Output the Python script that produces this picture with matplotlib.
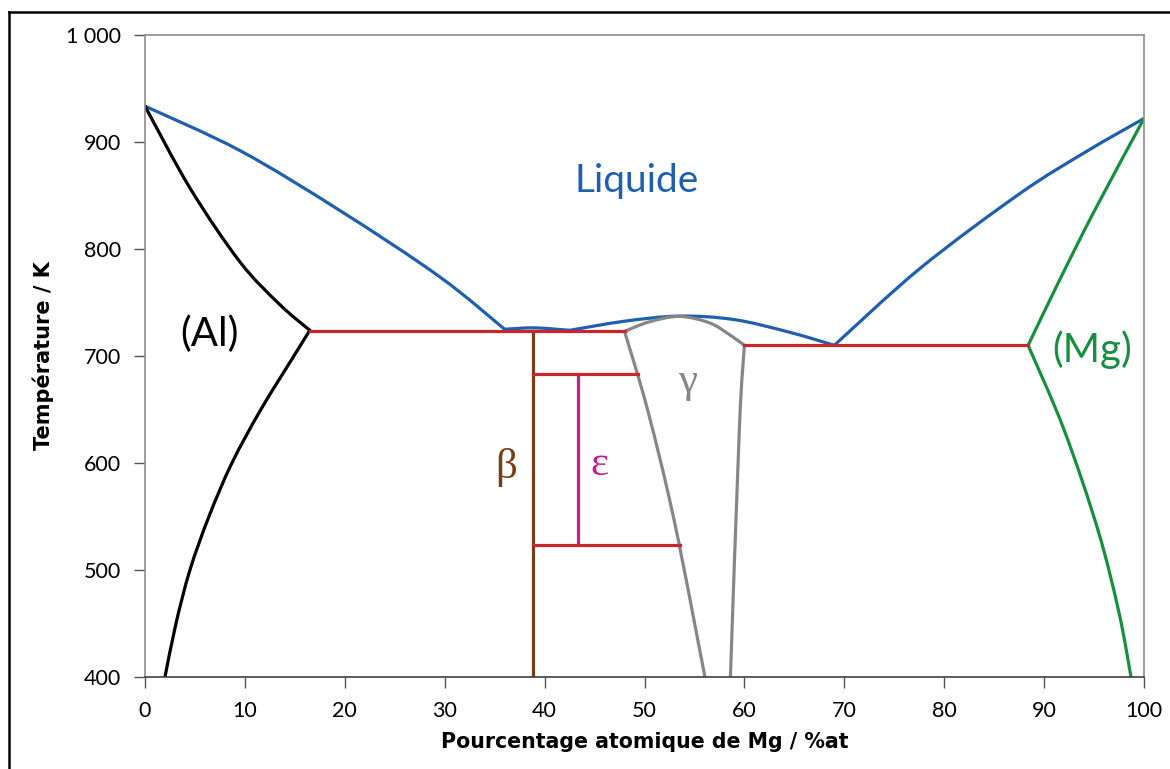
import matplotlib
matplotlib.use("Agg")
import matplotlib.pyplot as plt
from matplotlib.lines import Line2D
from matplotlib.path import Path
from matplotlib.patches import PathPatch

# Diagramme de phases Al-Mg
liq_al_x = [0, 9.5, 19.5, 29.5, 36]
liq_al_t = [933.5, 892, 836, 774, 725]

hump_x = [36, 39, 42.5]
hump_t = [725, 726.3, 724]

liq_mid_x = [42.5, 48, 53.5, 59, 64.6, 69]
liq_mid_t = [724, 732.5, 737.3, 734, 722, 710]

liq_mg_x = [69, 77.6, 87.6, 94.3, 100]
liq_mg_t = [710, 782, 852, 891.5, 922]

sol_al_x = [0, 4.5, 9.5, 13.5, 16.5]
sol_al_t = [933.5, 857, 788, 748, 724]

solv_al_x = [16.5, 14.9, 11.6, 8.7, 6.4, 4.5, 3.1, 2.0]
solv_al_t = [724, 700, 650, 600, 550, 500, 450, 400]

sol_mg_x = [88.4, 91.5, 95, 100]
sol_mg_t = [710, 770, 835, 922]

solv_mg_x = [88.4, 92.0, 95.4, 97.5, 98.7]
solv_mg_t = [710, 631, 537, 460, 400]

gam_top_x = [48, 50.5, 53.5, 56.5, 58.5, 60]
gam_top_t = [723, 732, 737, 731, 720, 710]
gam_left_x = [48, 50.3, 53.0, 56.05]
gam_left_t = [723, 650, 545, 400]
gam_right_x = [60, 59.5, 58.6]
gam_right_t = [710, 633, 400]

# paliers (x debut, x fin, T)
paliers = [(16.5, 48, 723), (60, 88.4, 710), (38.85, 49.35, 683), (38.85, 53.55, 523)]
beta_x, beta_t = [38.85, 38.85], [400, 723]
eps_x, eps_t = [43.35, 43.35], [523, 683]

x_ticks = list(range(0, 101, 10))
y_ticks = [400, 500, 600, 700, 800, 900, 1000]
y_labels = ["400", "500", "600", "700", "800", "900", "1 000"]

blue = "#1f5fb0"
red = "#c8262c"
green = "#16903f"
brown = "#7a3e17"
magenta = "#c41f8a"
gray = "#868686"
lw = 2.3


def smooth_curve(ax, xs, ts, color):
    # courbe lisse passant par les points lus (Catmull-Rom -> Bezier cubique)
    pts = list(zip(xs, ts))
    verts = [pts[0]]
    codes = [Path.MOVETO]
    n = len(pts)
    for i in range(n - 1):
        p0 = pts[i - 1] if i > 0 else pts[i]
        p1 = pts[i]
        p2 = pts[i + 1]
        p3 = pts[i + 2] if i + 2 < n else pts[i + 1]
        c1 = (p1[0] + (p2[0] - p0[0]) / 6, p1[1] + (p2[1] - p0[1]) / 6)
        c2 = (p2[0] - (p3[0] - p1[0]) / 6, p2[1] - (p3[1] - p1[1]) / 6)
        verts += [c1, c2, p2]
        codes += [Path.CURVE4] * 3
    patch = PathPatch(Path(verts, codes), fill=False, edgecolor=color, lw=lw,
                      capstyle="round", joinstyle="round")
    ax.add_patch(patch)


plt.rcParams['font.family'] = ['Lato', 'DejaVu Sans']

fig = plt.figure(figsize=(11.7, 7.69), dpi=100)
ax = fig.add_axes([145 / 1170, 1 - 677 / 769, 999 / 1170, 642 / 769])

smooth_curve(ax, liq_al_x, liq_al_t, blue)
smooth_curve(ax, hump_x, hump_t, blue)
smooth_curve(ax, liq_mid_x, liq_mid_t, blue)
smooth_curve(ax, liq_mg_x, liq_mg_t, blue)

smooth_curve(ax, sol_al_x, sol_al_t, "black")
smooth_curve(ax, solv_al_x, solv_al_t, "black")
smooth_curve(ax, sol_mg_x, sol_mg_t, green)
smooth_curve(ax, solv_mg_x, solv_mg_t, green)

smooth_curve(ax, gam_top_x, gam_top_t, gray)
smooth_curve(ax, gam_left_x, gam_left_t, gray)
smooth_curve(ax, gam_right_x, gam_right_t, gray)

ax.plot(beta_x, beta_t, color=brown, lw=lw)
ax.plot(eps_x, eps_t, color=magenta, lw=lw)
for x0, x1, t in paliers:
    ax.plot([x0, x1], [t, t], color=red, lw=lw)

ax.text(49.2, 864, "Liquide", color=blue, fontsize=28, ha="center", va="center")
ax.text(6.5, 720, "(Al)", color="black", fontsize=29, ha="center", va="center")
ax.text(94.8, 706, "(Mg)", color=green, fontsize=29, ha="center", va="center")
ax.text(36.2, 596, "β", color=brown, fontsize=31, ha="center", va="center", family="Liberation Serif")
ax.text(45.5, 598, "ε", color=magenta, fontsize=31, ha="center", va="center", family="Liberation Serif")
ax.text(54.3, 676, "γ", color=gray, fontsize=31, ha="center", va="center", family="Liberation Serif")

ax.set_xlim(0, 100)
ax.set_ylim(400, 1000)
ax.set_xticks(x_ticks)
ax.set_yticks(y_ticks)
ax.set_yticklabels(y_labels)
ax.tick_params(axis="both", direction="out", length=8, width=1, labelsize=15.5, colors="#555555", labelcolor="black")
ax.tick_params(axis="x", pad=9)
ax.tick_params(axis="y", pad=9)
for side in ["left", "top", "right"]:
    ax.spines[side].set_color("#8c8c8c")
    ax.spines[side].set_linewidth(1.2)
ax.spines["bottom"].set_color("#404040")
ax.spines["bottom"].set_linewidth(1.2)

ax.set_xlabel("Pourcentage atomique de Mg / %at", fontsize=14.8, fontweight="bold",
              family="DejaVu Sans", labelpad=8)
ax.set_ylabel("Température / K", fontsize=15, fontweight="bold",
              family="DejaVu Sans", labelpad=9)

# cadre noir autour de la figure
bx, by = 9 / 1170, 1 - 12 / 769
fig.add_artist(Line2D([bx, bx], [0, by], color="black", lw=1.8, transform=fig.transFigure))
fig.add_artist(Line2D([bx, 1], [by, by], color="black", lw=1.8, transform=fig.transFigure))

fig.savefig("out.png", dpi=100)
